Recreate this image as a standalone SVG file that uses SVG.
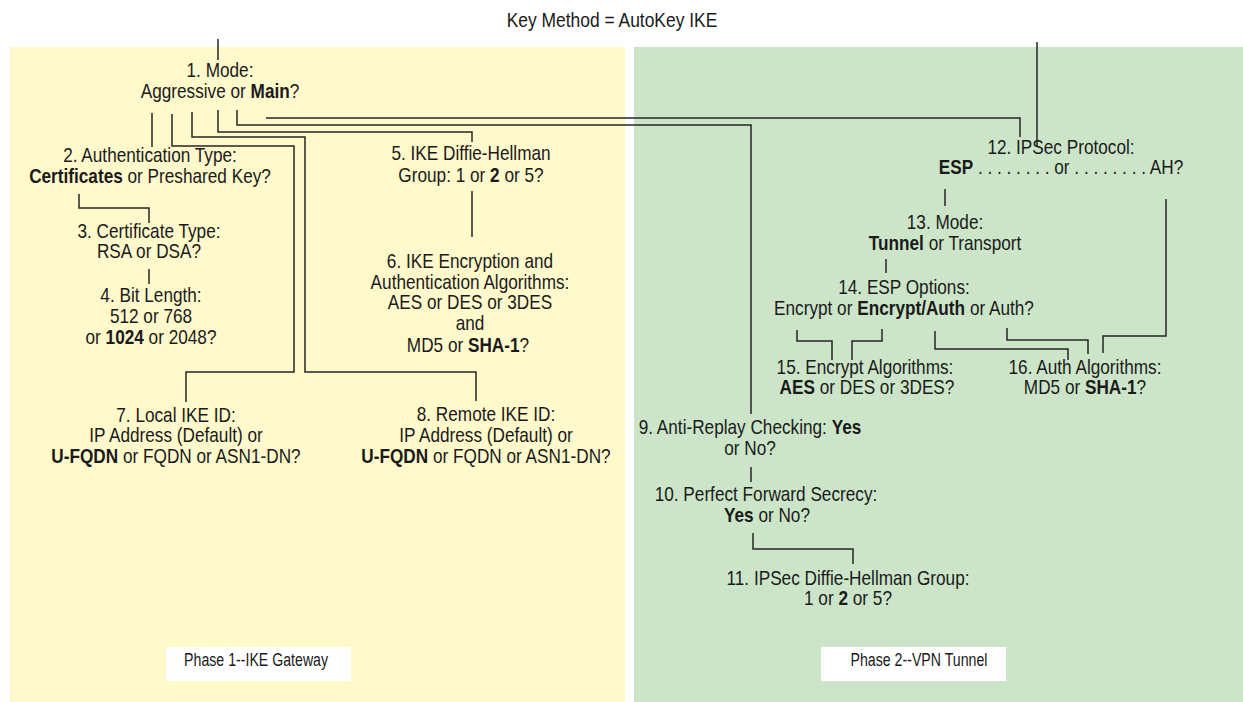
<svg xmlns="http://www.w3.org/2000/svg" width="1243" height="702" viewBox="0 0 1243 702">
<style>
.t{font-family:"Liberation Sans",Arial,sans-serif;font-size:20px;fill:#1a1a1a;text-anchor:middle;transform-box:fill-box;transform-origin:50% 50%;transform:scaleX(0.86)}
.tt{font-size:21px;transform:scaleX(0.83)}
.b{font-weight:bold}
.ph{font-family:"Liberation Sans",Arial,sans-serif;font-size:19px;fill:#1a1a1a;text-anchor:middle;transform-box:fill-box;transform-origin:50% 50%;transform:scaleX(0.745)}
.c{fill:none;stroke:#262626;stroke-width:1.5}
</style>
<rect x="10" y="47" width="615" height="655" fill="#FFF9CC"/>
<rect x="634" y="47" width="609" height="655" fill="#CCE5C9"/>
<g id="title"><text class="t tt" x="612" y="27">Key Method = AutoKey IKE</text></g>
<g id="connectors">
<path class="c" d="M218,39V60"/>
<path class="c" d="M1037,42V147"/>
<path class="c" d="M152,113V147"/>
<path class="c" d="M172,114V146H294V372H186V402"/>
<path class="c" d="M192,112V137H305V372H476V401"/>
<path class="c" d="M218,110V132H472V142"/>
<path class="c" d="M237,110V125H751V414"/>
<path class="c" d="M266,118H1020V137"/>
<path class="c" d="M79,194V208H149V223"/>
<path class="c" d="M149,269V284"/>
<path class="c" d="M472,191V237"/>
<path class="c" d="M945,189V206"/>
<path class="c" d="M1166,199V336H1103V353"/>
<path class="c" d="M886,259V273"/>
<path class="c" d="M797,330V341H832V360"/>
<path class="c" d="M882,329V341H852V360"/>
<path class="c" d="M935,331V349H1068V360"/>
<path class="c" d="M1007,328V340H1088V354"/>
<path class="c" d="M751,467V482"/>
<path class="c" d="M753,533V549H853V564"/>
</g>
<g id="n1"><text class="t" x="220" y="77">1. Mode:</text><text class="t" x="220" y="98">Aggressive or <tspan class="b">Main</tspan>?</text></g>
<g id="n2"><text class="t" x="150" y="162">2. Authentication Type:</text><text class="t" x="150" y="183"><tspan class="b">Certificates</tspan> or Preshared Key?</text></g>
<g id="n3"><text class="t" x="149" y="238">3. Certificate Type:</text><text class="t" x="149" y="258">RSA or DSA?</text></g>
<g id="n4"><text class="t" x="151" y="302">4. Bit Length:</text><text class="t" x="151" y="323">512 or 768</text><text class="t" x="151" y="344">or <tspan class="b">1024</tspan> or 2048?</text></g>
<g id="n5"><text class="t" x="471" y="160">5. IKE Diffie-Hellman</text><text class="t" x="471" y="182">Group: 1 or <tspan class="b">2</tspan> or 5?</text></g>
<g id="n6"><text class="t" x="470" y="268">6. IKE Encryption and</text><text class="t" x="470" y="289">Authentication Algorithms:</text><text class="t" x="470" y="309">AES or DES or 3DES</text><text class="t" x="470" y="330">and</text><text class="t" x="468" y="352">MD5 or <tspan class="b">SHA-1</tspan>?</text></g>
<g id="n7"><text class="t" x="176" y="422">7. Local IKE ID:</text><text class="t" x="176" y="442">IP Address (Default) or</text><text class="t" x="176" y="463"><tspan class="b">U-FQDN</tspan> or FQDN or ASN1-DN?</text></g>
<g id="n8"><text class="t" x="486" y="421">8. Remote IKE ID:</text><text class="t" x="486" y="442">IP Address (Default) or</text><text class="t" x="486" y="463"><tspan class="b">U-FQDN</tspan> or FQDN or ASN1-DN?</text></g>
<g id="n9"><text class="t" x="750" y="434">9. Anti-Replay Checking: <tspan class="b">Yes</tspan></text><text class="t" x="750" y="455">or No?</text></g>
<g id="n10"><text class="t" x="766" y="501">10. Perfect Forward Secrecy:</text><text class="t" x="767" y="522"><tspan class="b">Yes</tspan> or No?</text></g>
<g id="n11"><text class="t" x="848" y="585">11. IPSec Diffie-Hellman Group:</text><text class="t" x="848" y="605">1 or <tspan class="b">2</tspan> or 5?</text></g>
<g id="n12"><text class="t" x="1061" y="154">12. IPSec Protocol:</text><text class="t" x="1061" y="174"><tspan class="b">ESP</tspan> . . . . . . . . or . . . . . . . . AH?</text></g>
<g id="n13"><text class="t" x="945" y="229">13. Mode:</text><text class="t" x="945" y="250"><tspan class="b">Tunnel</tspan> or Transport</text></g>
<g id="n14"><text class="t" x="904" y="294">14. ESP Options:</text><text class="t" x="904" y="315">Encrypt or <tspan class="b">Encrypt/Auth</tspan> or Auth?</text></g>
<g id="n15"><text class="t" x="865" y="374">15. Encrypt Algorithms:</text><text class="t" x="867" y="394"><tspan class="b">AES</tspan> or DES or 3DES?</text></g>
<g id="n16"><text class="t" x="1085" y="374">16. Auth Algorithms:</text><text class="t" x="1085" y="394">MD5 or <tspan class="b">SHA-1</tspan>?</text></g>
<g id="phase1"><rect x="166" y="647" width="185" height="34" fill="#fff"/><text class="ph" x="256" y="666">Phase 1--IKE Gateway</text></g>
<g id="phase2"><rect x="821" y="647" width="185" height="34" fill="#fff"/><text class="ph" x="919" y="666">Phase 2--VPN Tunnel</text></g>
</svg>
